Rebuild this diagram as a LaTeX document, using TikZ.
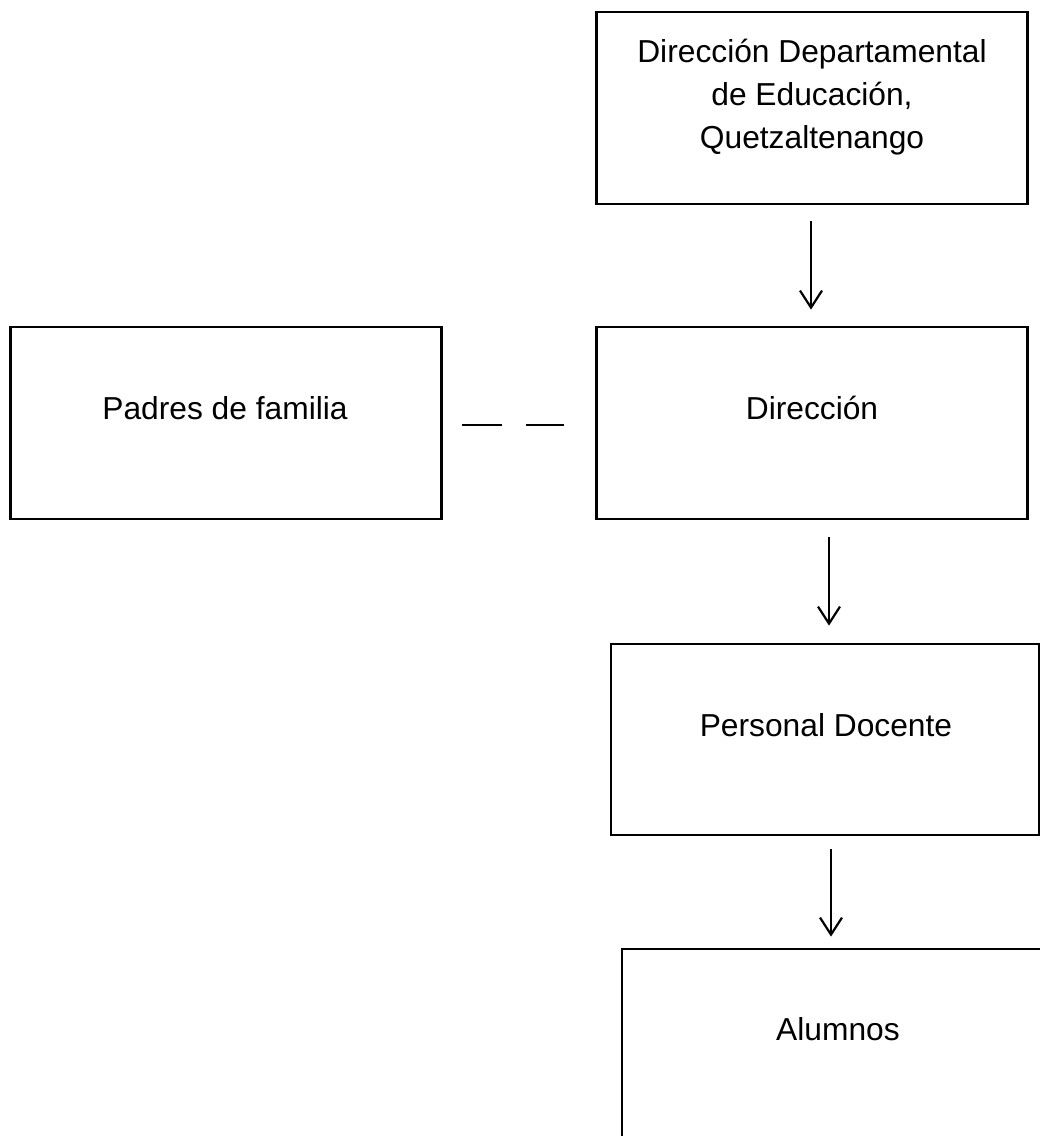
\documentclass[tikz,border=0pt]{standalone}
\usepackage{fontspec}
\setmainfont{Liberation Sans}
\usetikzlibrary{arrows.meta}
\begin{document}
\begin{tikzpicture}[x=1pt,y=-1pt,
  boxst/.style={draw, line width=2.8pt, minimum width=431pt, minimum height=192pt, inner sep=0pt},
  lbl/.style={font=\fontsize{31.75}{43}\selectfont, anchor=base, inner sep=0pt},
  arr/.style={line width=2.2pt, -{Straight Barb[length=17pt,width=22pt]}},
  link/.style={line width=2.8pt, dash pattern=on 40pt off 24pt}]
\useasboundingbox[fill=white] (0,0) rectangle (1040,1136);
\clip (0,0) rectangle (1040,1136);
% boxes
\node[boxst] (top) at (812,108) {};
\node[boxst] (dir) at (812,423) {};
\node[boxst] (padres) at (226,423) {};
\node[boxst, minimum width=428pt, minimum height=191pt] (pers) at (825,739.5) {};
\node[boxst] (alum) at (837.5,1045) {};
% texts
\node[lbl] (ttop) at (812,62) {\renewcommand\arraystretch{1}\setlength\tabcolsep{0pt}\begin{tabular}[t]{c}Dirección Departamental\\ de Educación,\\ Quetzaltenango\end{tabular}};
\node[lbl] (tdir) at (812,419) {Dirección};
\node[lbl] (tpadres) at (225,419) {Padres de familia};
\node[lbl] (tpers) at (826,736) {Personal Docente};
\node[lbl] (talum) at (838,1040) {Alumnos};
% connectors
\draw[arr, shorten <=16pt, shorten >=16pt] ([xshift=-1pt]top.south) -- ([xshift=-1pt]dir.north);
\draw[arr, shorten <=17pt, shorten >=17pt] ([xshift=17pt]dir.south) -- ([xshift=4pt]pers.north);
\draw[arr, shorten <=13pt, shorten >=11pt] ([xshift=6pt]pers.south) -- ([xshift=-6.5pt]alum.north);
\draw[link, shorten <=19pt, shorten >=31pt] ([yshift=-2pt]padres.east) -- ([yshift=-2pt]dir.west);
\end{tikzpicture}
\end{document}
